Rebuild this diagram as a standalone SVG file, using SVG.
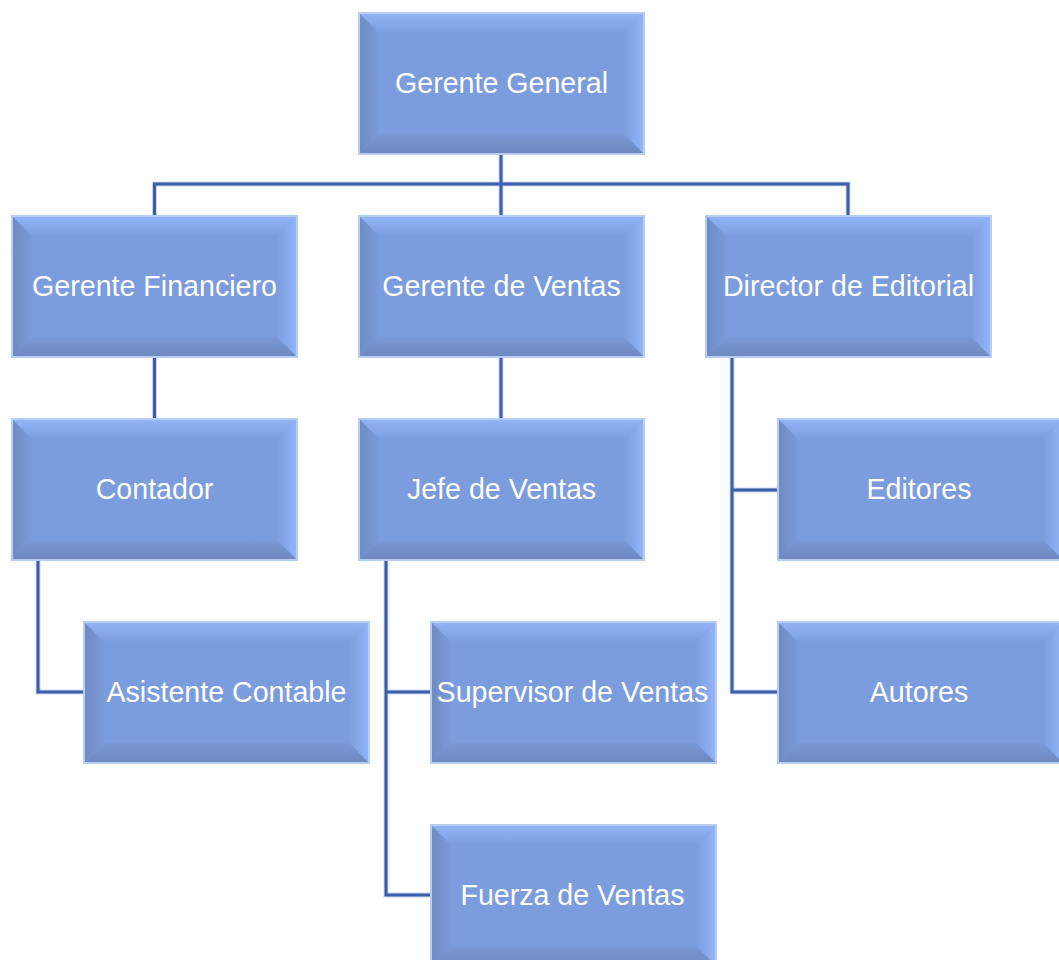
<svg xmlns="http://www.w3.org/2000/svg" width="1059" height="960" viewBox="0 0 1059 960">
  <style>
    .lbl { font-family: "Liberation Sans", Arial, sans-serif; font-size: 28.6px; fill: #ffffff; text-anchor: middle; }
    .halo { fill: none; stroke: #c9d6f0; stroke-width: 5; }
    .wire { fill: none; stroke: #3b5ea8; stroke-width: 3; }
  </style>
  <defs>
    <linearGradient id="gTop" x1="0" y1="0" x2="0" y2="1">
      <stop offset="0" stop-color="#93b5f8"/>
      <stop offset="1" stop-color="#7c9ddd"/>
    </linearGradient>
    <linearGradient id="gRight" x1="0" y1="0" x2="1" y2="0">
      <stop offset="0" stop-color="#7c9ddd"/>
      <stop offset="1" stop-color="#92b6fb"/>
    </linearGradient>
    <linearGradient id="gBottom" x1="0" y1="0" x2="0" y2="1">
      <stop offset="0" stop-color="#7a99d7"/>
      <stop offset="1" stop-color="#6e87bf"/>
    </linearGradient>
    <linearGradient id="gLeft" x1="0" y1="0" x2="1" y2="0">
      <stop offset="0" stop-color="#6f8bc3"/>
      <stop offset="1" stop-color="#7a9ad9"/>
    </linearGradient>
    <symbol id="bevel" overflow="visible">
      <rect x="0" y="0" width="285" height="141" fill="#7b9cdd"/>
      <polygon points="0,0 285,0 265,20 20,20" fill="url(#gTop)"/>
      <polygon points="285,0 285,141 265,121 265,20" fill="url(#gRight)"/>
      <polygon points="0,141 285,141 265,121 20,121" fill="url(#gBottom)"/>
      <polygon points="0,0 20,20 20,121 0,141" fill="url(#gLeft)"/>
      <rect x="0" y="0" width="285" height="141" fill="none" stroke="#b7cdf3" stroke-width="2"/>
    </symbol>
  </defs>
  <rect width="1059" height="960" fill="#ffffff"/>

  <g id="connectors">
    <g class="halo">
      <path d="M501,154 V216 M154.5,216 V184 H848 V216"/>
      <path d="M154.5,357 V419 M501,357 V419"/>
      <path d="M38,560 V692 H84"/>
      <path d="M386,560 V895 H431 M386,692 H431"/>
      <path d="M732,357 V692 H778 M732,490 H778"/>
    </g>
    <g class="wire">
      <path d="M501,154 V216 M154.5,216 V184 H848 V216"/>
      <path d="M154.5,357 V419 M501,357 V419"/>
      <path d="M38,560 V692 H84"/>
      <path d="M386,560 V895 H431 M386,692 H431"/>
      <path d="M732,357 V692 H778 M732,490 H778"/>
    </g>
  </g>

  <g id="gerente-general">
    <use href="#bevel" x="359" y="13"/>
    <text class="lbl" x="501.5" y="93">Gerente General</text>
  </g>
  <g id="gerente-financiero">
    <use href="#bevel" x="12" y="216"/>
    <text class="lbl" x="154.5" y="296">Gerente Financiero</text>
  </g>
  <g id="gerente-ventas">
    <use href="#bevel" x="359" y="216"/>
    <text class="lbl" x="501.5" y="296">Gerente de Ventas</text>
  </g>
  <g id="director-editorial">
    <use href="#bevel" x="706" y="216"/>
    <text class="lbl" x="848.5" y="296">Director de Editorial</text>
  </g>
  <g id="contador">
    <use href="#bevel" x="12" y="419"/>
    <text class="lbl" x="154.5" y="499">Contador</text>
  </g>
  <g id="jefe-ventas">
    <use href="#bevel" x="359" y="419"/>
    <text class="lbl" x="501.5" y="499">Jefe de Ventas</text>
  </g>
  <g id="editores">
    <use href="#bevel" x="778" y="419"/>
    <text class="lbl" x="919" y="499">Editores</text>
  </g>
  <g id="asistente-contable">
    <use href="#bevel" x="84" y="622"/>
    <text class="lbl" x="226.5" y="702">Asistente Contable</text>
  </g>
  <g id="supervisor-ventas">
    <use href="#bevel" x="431" y="622"/>
    <text class="lbl" x="572.5" y="702">Supervisor de Ventas</text>
  </g>
  <g id="autores">
    <use href="#bevel" x="778" y="622"/>
    <text class="lbl" x="919" y="702">Autores</text>
  </g>
  <g id="fuerza-ventas">
    <use href="#bevel" x="431" y="825"/>
    <text class="lbl" x="572.5" y="905">Fuerza de Ventas</text>
  </g>
</svg>
